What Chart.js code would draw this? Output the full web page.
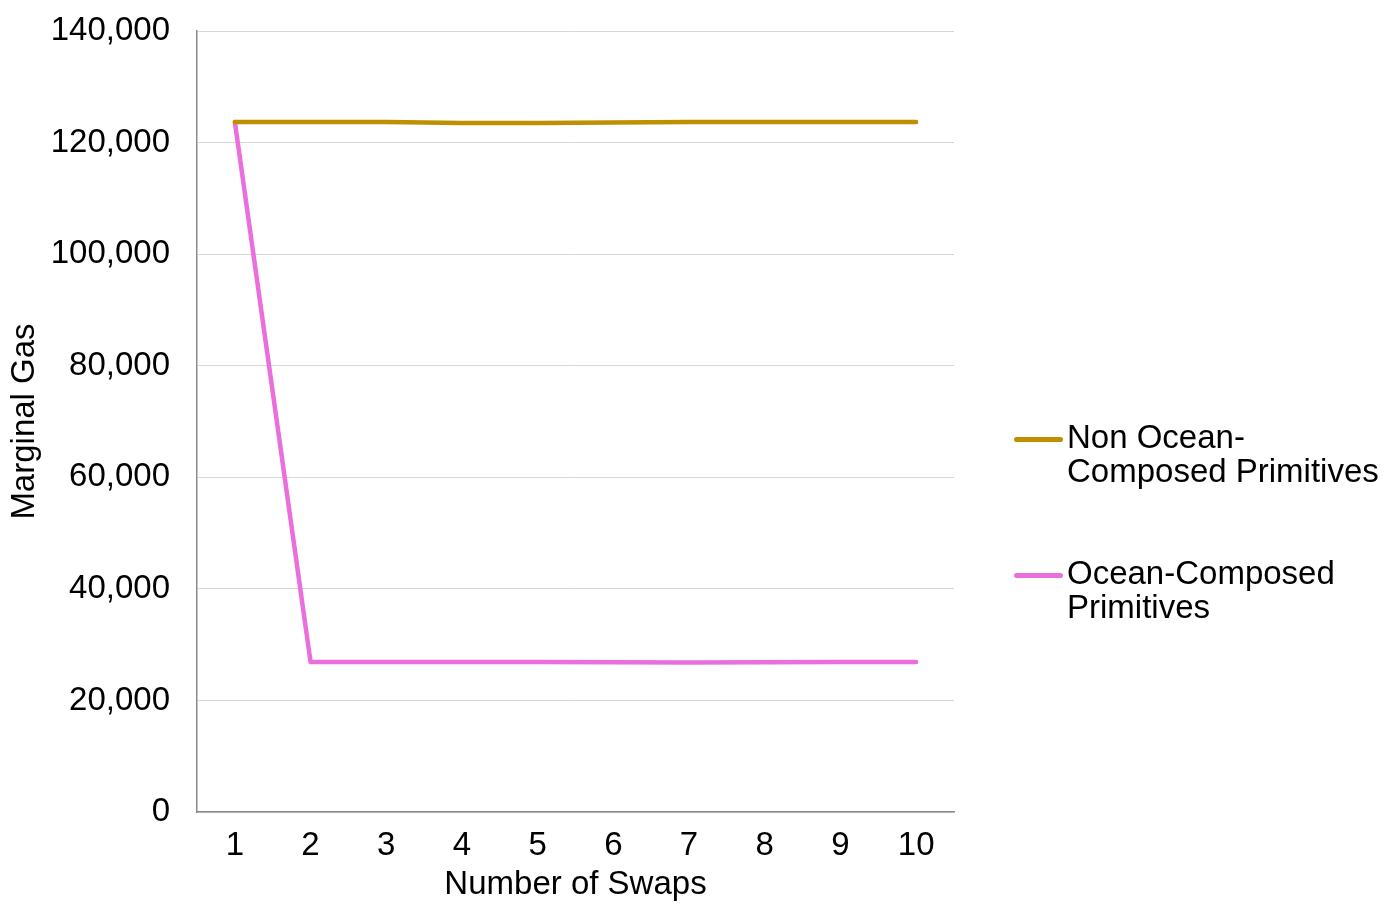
<!DOCTYPE html>
<html>
<head>
<meta charset="utf-8">
<script src="https://cdn.jsdelivr.net/npm/chart.js@4"></script>
<style>
  html, body { margin: 0; padding: 0; background: #ffffff; }
  #wrap { position: relative; width: 1400px; height: 924px; }
  canvas { display: block; }
  #legend { position: absolute; left: 1014px; top: 0; font-family: "Liberation Sans", Arial, sans-serif; font-size: 33px; color: #000; }
  .item { position: absolute; left: 0; white-space: nowrap; }
  .sw { position: absolute; left: 0; width: 49px; height: 5px; border-radius: 2.5px; }
  .txt { position: absolute; left: 53px; top: 0; line-height: 34px; }
</style>
</head>
<body>
<div id="wrap">
  <canvas id="c" width="1400" height="924"></canvas>
  <div id="legend"></div>
</div>
<script>
const categories = ["1","2","3","4","5","6","7","8","9","10"];
const nonOceanValues = [123700, 123700, 123700, 123500, 123500, 123600, 123700, 123700, 123700, 123700];
const oceanValues = [123700, 26900, 26900, 26900, 26900, 26850, 26800, 26850, 26900, 26900];
const yTicks = [0, 20000, 40000, 60000, 80000, 100000, 120000, 140000];
const seriesNames = [["Non Ocean-", "Composed Primitives"], ["Ocean-Composed", "Primitives"]];
const seriesColors = ["#BF8F00", "#EB6EDD"];

const FONT = "'Liberation Sans', Arial, sans-serif";

const chart = new Chart(document.getElementById('c'), {
  type: 'line',
  data: {
    labels: categories,
    datasets: [
      { label: seriesNames[0].join(' '), data: nonOceanValues, borderColor: seriesColors[0], backgroundColor: seriesColors[0], borderWidth: 4.5, pointRadius: 0, tension: 0, borderCapStyle: 'round', borderJoinStyle: 'round' },
      { label: seriesNames[1].join(' '), data: oceanValues, borderColor: seriesColors[1], backgroundColor: seriesColors[1], borderWidth: 4.5, pointRadius: 0, tension: 0, borderCapStyle: 'round', borderJoinStyle: 'round' }
    ]
  },
  options: {
    responsive: false,
    animation: false,
    layout: { padding: { top: 31, right: 446, bottom: 0, left: 0 } },
    plugins: { legend: { display: false }, tooltip: { enabled: false } },
    scales: {
      x: {
        offset: true,
        grid: { display: false, drawTicks: false },
        border: { display: true, color: '#8a8a8a', width: 1.5 },
        ticks: { color: '#000', font: { family: FONT, size: 33 }, padding: 14, maxRotation: 0 },
        title: { display: true, text: 'Number of Swaps', color: '#000', font: { family: FONT, size: 33 }, padding: { top: 0, bottom: 19 } },
        afterFit: (s) => { s.height = 112; s.paddingLeft = 0; s.paddingRight = 0; }
      },
      y: {
        min: 0, max: 140000,
        afterBuildTicks: (s) => { s.ticks = yTicks.map(v => ({ value: v })); },
        grid: { color: '#d6d6d6', lineWidth: 1, drawTicks: false },
        border: { display: true, color: '#8a8a8a', width: 1.5 },
        ticks: { color: '#000', font: { family: FONT, size: 33 }, padding: 27, callback: (v) => Number(v).toLocaleString('en-US') },
        title: { display: true, text: 'Marginal Gas', color: '#000', font: { family: FONT, size: 33 }, padding: { top: 5, bottom: 5 } },
        afterFit: (s) => { s.width = 197; s.paddingTop = 0; s.paddingBottom = 0; }
      }
    }
  }
});

// HTML legend built from series names/colours
const legend = document.getElementById('legend');
const legendTops = [420, 556];
seriesNames.forEach((lines, i) => {
  const item = document.createElement('div');
  item.className = 'item';
  item.style.top = legendTops[i] + 'px';
  const sw = document.createElement('div');
  sw.className = 'sw';
  sw.style.background = seriesColors[i];
  sw.style.top = '17px';
  const txt = document.createElement('div');
  txt.className = 'txt';
  txt.innerHTML = lines.join('<br>');
  item.appendChild(sw);
  item.appendChild(txt);
  legend.appendChild(item);
});
</script>
</body>
</html>
